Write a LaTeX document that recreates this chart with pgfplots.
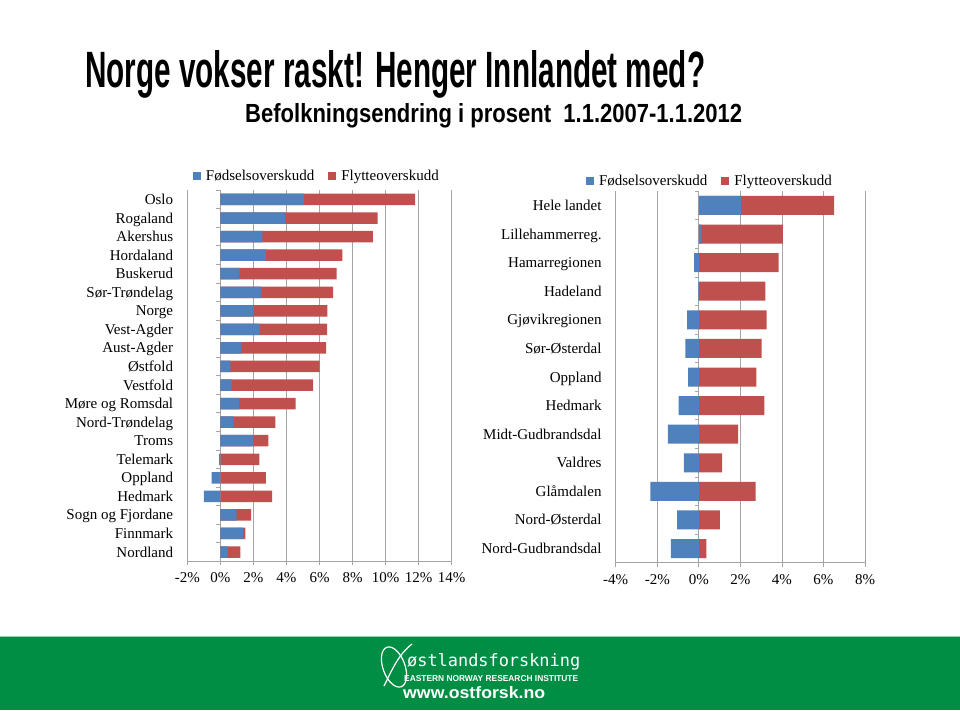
\documentclass[border=0pt]{standalone}
\usepackage{graphicx}
\usepackage{fontspec}
\setmainfont{Liberation Serif}
\newfontfamily\sansf{Liberation Sans}
\newfontfamily\logof{DejaVu Sans Mono}
\usepackage{pgfplots}
\pgfplotsset{compat=1.18}
\usepackage{pgfplotstable}

\definecolor{fblue}{RGB}{79,129,189}
\definecolor{fred}{RGB}{192,80,77}
\definecolor{gridc}{RGB}{165,165,165}
\definecolor{ostgreen}{RGB}{0,142,68}

\pgfplotstableread[col sep=comma]{
name,B,F
Oslo,5.05,6.73
Rogaland,3.92,5.59
Akershus,2.54,6.69
Hordaland,2.75,4.64
Buskerud,1.15,5.88
Sør-Trøndelag,2.48,4.35
Norge,2.02,4.46
Vest-Agder,2.38,4.08
Aust-Agder,1.27,5.13
Østfold,0.61,5.39
Vestfold,0.68,4.93
Møre og Romsdal,1.13,3.43
Nord-Trøndelag,0.81,2.52
Troms,2.00,0.91
Telemark,-0.08,2.36
Oppland,-0.53,2.75
Hedmark,-0.99,3.13
Sogn og Fjordane,0.99,0.87
Finnmark,1.37,0.15
Nordland,0.44,0.77
}\lefttab

\pgfplotstableread[col sep=comma]{
name,B,F
Hele landet,2.03,4.48
Lillehammerreg.,0.13,3.92
Hamarregionen,-0.22,3.84
Hadeland,-0.02,3.20
Gjøvikregionen,-0.56,3.26
Sør-Østerdal,-0.65,3.02
Oppland,-0.51,2.77
Hedmark,-0.97,3.15
Midt-Gudbrandsdal,-1.49,1.89
Valdres,-0.72,1.12
Glåmdalen,-2.33,2.74
Nord-Østerdal,-1.04,1.01
Nord-Gudbrandsdal,-1.34,0.36
}\righttab

\pgfplotsset{
  myaxis/.style={
    scale only axis,
    anchor=south west,
    y dir=reverse,
    xbar, bar shift=0pt,
    axis x line*=bottom, axis y line*=left,
    y axis line style={draw=none},
    x axis line style={gridc, line width=0.8pt},
    xmajorgrids,
    major grid style={gridc, line width=0.8pt},
    tick align=outside,
    major tick length=4pt,
    xtick style={gridc, line width=0.8pt},
    ytick style={draw=none},
    ticklabel style={font=\fontsize{15}{17}\selectfont, text=black},
    xticklabel style={yshift=-4pt},
    yticklabel style={anchor=east, inner sep=0pt, xshift=-10pt, text height=10pt, text depth=0pt},
    reverse legend,
    legend columns=2,
    legend style={draw=none, fill=none, font=\fontsize{15}{17}\selectfont,
      /tikz/every odd column/.append style={column sep=3pt},
      /tikz/every even column/.append style={column sep=12pt}},
    legend image code/.code={\fill[##1] (0pt,-4pt) rectangle (8pt,4pt);},
  }
}

\begin{document}
\begin{tikzpicture}[x=1pt,y=1pt]
\path[use as bounding box] (0,0) rectangle (960,710);
\fill[white] (0,0) rectangle (960,710);

% footer band
\fill[ostgreen] (0,0) rectangle (960,73);
\draw[ostgreen!40, line width=1pt] (0,73.5) -- (960,73.5);
\draw[white, line width=1.2pt, rotate around={20:(394,43)}] (394,43) ellipse (11pt and 21pt);
\draw[white, line width=1.2pt] (384,24) .. controls (392,40) and (398,55) .. (412,66);
\node[anchor=base west, inner sep=0, text=white] at (407,44)
  {\resizebox{173pt}{13pt}{\logof østlandsforskning}};
\node[anchor=base west, inner sep=0, text=white] at (404,29)
  {\resizebox{174pt}{6pt}{\sansf\bfseries EASTERN NORWAY RESEARCH INSTITUTE}};
\node[anchor=base west, inner sep=0, text=white] at (403,12)
  {\resizebox{142pt}{12pt}{\sansf\bfseries www.ostforsk.no}};

% titles
\node[anchor=base west, inner sep=0] at (85,622)
  {\resizebox{620pt}{37pt}{\sansf\bfseries Norge vokser raskt! Henger Innlandet med?}};
\node[anchor=base west, inner sep=0] at (245,587)
  {\resizebox{497pt}{19pt}{\sansf\bfseries Befolkningsendring i prosent\ \ 1.1.2007-1.1.2012}};

% left chart
\begin{axis}[myaxis,
  at={(187.3pt,148.7pt)},
  width=264.4pt, height=371.1pt,
  xmin=-2, xmax=14, ymin=-0.5, ymax=19.5,
  xtick={-2,0,...,14},
  xticklabels={-2\%,0\%,2\%,4\%,6\%,8\%,10\%,12\%,14\%},
  ytick={0,...,19},
  yticklabels from table={\lefttab}{name},
  bar width=11.5pt,
  legend style={at={(axis description cs:0.49,1.038)}, anchor=center},
]
\addplot[draw=none, fill=fred] table[x expr={max(\thisrow{B},0)+\thisrow{F}}, y expr=\coordindex] {\lefttab};
\addlegendentry{Flytteoverskudd}
\addplot[draw=none, fill=fblue] table[x=B, y expr=\coordindex] {\lefttab};
\addlegendentry{Fødselsoverskudd}
\pgfplotsinvokeforeach{-0.5,0.5,...,19.5}{\draw[gridc, line width=0.8pt] (axis cs:0,#1) -- ++(-4pt,0pt);}
\end{axis}

% right chart
\begin{axis}[myaxis,
  at={(615.7pt,147.2pt)},
  width=249.3pt, height=371.6pt,
  xmin=-4, xmax=8, ymin=-0.5, ymax=12.5,
  xtick={-4,-2,...,8},
  xticklabels={-4\%,-2\%,0\%,2\%,4\%,6\%,8\%},
  ytick={0,...,12},
  yticklabels from table={\righttab}{name},
  bar width=19pt,
  legend style={at={(axis description cs:0.378,1.0275)}, anchor=center},
]
\addplot[draw=none, fill=fred] table[x expr={max(\thisrow{B},0)+\thisrow{F}}, y expr=\coordindex] {\righttab};
\addlegendentry{Flytteoverskudd}
\addplot[draw=none, fill=fblue] table[x=B, y expr=\coordindex] {\righttab};
\addlegendentry{Fødselsoverskudd}
\pgfplotsinvokeforeach{-0.5,0.5,...,12.5}{\draw[gridc, line width=0.8pt] (axis cs:0,#1) -- ++(-4pt,0pt);}
\end{axis}
\end{tikzpicture}
\end{document}
